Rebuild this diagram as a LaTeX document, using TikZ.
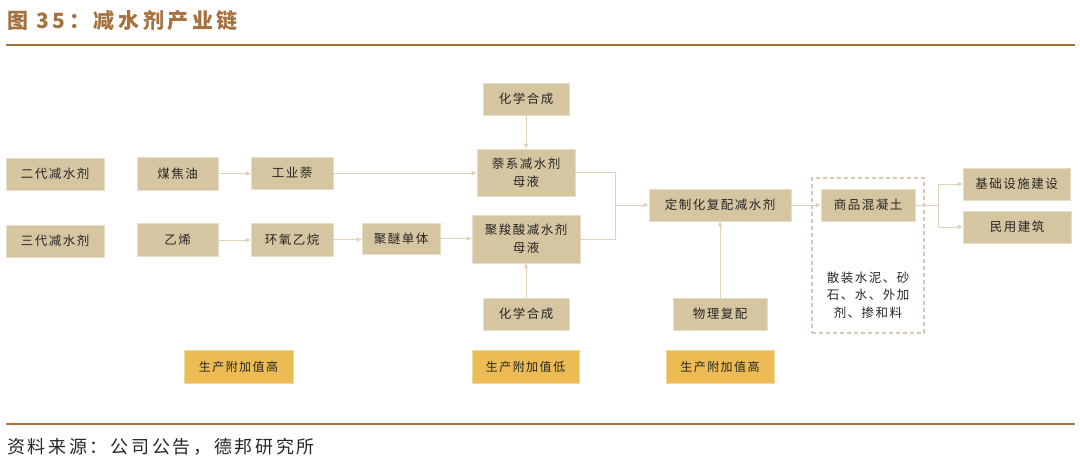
\documentclass[tikz,border=0pt]{standalone}
\usepackage{fontspec}
\usetikzlibrary{arrows.meta}
\newfontfamily\cjk[LetterSpace=12]{Noto Sans CJK SC}
\newfontfamily\cjkt[LetterSpace=17]{Noto Sans CJK SC}
\newfontfamily\cjkf[LetterSpace=15]{Noto Sans CJK SC}
\definecolor{boxtan}{HTML}{D5C5A1}
\definecolor{boxedge}{HTML}{E8DDC8}
\definecolor{ylw}{HTML}{EDBB53}
\definecolor{ylwedge}{HTML}{F3D79A}
\definecolor{conn}{HTML}{E0D3BA}
\definecolor{brown}{HTML}{A5723F}
\definecolor{dashc}{HTML}{D8CAAE}
\tikzset{
  tanbox/.style={fill=boxtan, draw=boxedge, line width=0.8pt, inner sep=0pt, align=center,
    font=\cjk\fontsize{12.5}{18}\selectfont, text=black!85},
  ylwbox/.style={fill=ylw, draw=ylwedge, line width=0.8pt, inner sep=0pt, align=center,
    font=\cjk\fontsize{12}{16}\selectfont, text=black!85,
    minimum height=33pt},
  conn/.style={draw=conn, line width=1pt, -{Triangle[length=5pt,width=4.5pt]}},
  connl/.style={draw=conn, line width=1pt},
}
\begin{document}
\begin{tikzpicture}[x=1pt,y=-1pt]
\useasboundingbox (0,0) rectangle (1080,469);
% header
\node[anchor=west, inner sep=0pt, text=brown, font=\cjkt\bfseries\fontsize{21}{24}\selectfont] (title) at (7,21) {图 35：减水剂产业链};
\draw[brown, line width=2.6pt] (6,45) -- (1075,45);
\draw[brown, line width=2.6pt] (6,424) -- (1075,424);
\node[anchor=west, inner sep=0pt, text=black!85, font=\cjkf\fontsize{18}{20}\selectfont] (src) at (7,447) {资料来源：公司公告，德邦研究所};

% column 1
\node[tanbox, minimum width=98pt, minimum height=32pt] (g2) at (55,174) {二代减水剂};
\node[tanbox, minimum width=98pt, minimum height=32pt] (g3) at (55,241) {三代减水剂};
% column 2
\node[tanbox, minimum width=81pt, minimum height=33pt] (mjy) at (177.5,173.5) {煤焦油};
\node[tanbox, minimum width=81pt, minimum height=33pt] (yx) at (177.5,240) {乙烯};
% column 3
\node[tanbox, minimum width=82pt, minimum height=32pt] (gyn) at (292,173) {工业萘};
\node[tanbox, minimum width=82pt, minimum height=33pt] (hy) at (292,239.5) {环氧乙烷};
% column 4
\node[tanbox, minimum width=78pt, minimum height=31pt] (jm) at (401,238.5) {聚醚单体};
% column 5
\node[tanbox, minimum width=86pt, minimum height=32pt] (hx1) at (526,99) {化学合成};
\node[tanbox, minimum width=98pt, minimum height=47pt] (nx) at (526,172.5) {萘系减水剂\\母液};
\node[tanbox, minimum width=108pt, minimum height=48pt] (js) at (526,239) {聚羧酸减水剂\\母液};
\node[tanbox, minimum width=86pt, minimum height=32pt] (hx2) at (526,314) {化学合成};
% column 6
\node[tanbox, minimum width=142pt, minimum height=32pt] (dz) at (720,205) {定制化复配减水剂};
\node[tanbox, minimum width=94pt, minimum height=32pt] (wl) at (720,314) {物理复配};
% column 7
\node[draw=dashc, line width=1.4pt, dash pattern=on 4pt off 3pt, minimum width=112pt, minimum height=155pt, inner sep=0pt] (dash) at (868,255.5) {};
\node[tanbox, minimum width=94pt, minimum height=32pt] (sp) at (868,205) {商品混凝土};
\node[inner sep=0pt, align=center, font=\cjk\fontsize{12.5}{17.5}\selectfont, text=black!85] (mix) at (868,295) {散装水泥、砂\\石、水、外加\\剂、掺和料};
% column 8
\node[tanbox, minimum width=107pt, minimum height=32pt] (jc) at (1016.5,184) {基础设施建设};
\node[tanbox, minimum width=108pt, minimum height=32pt] (my) at (1017,227) {民用建筑};
% yellow
\node[ylwbox, minimum width=109pt] (y1) at (238.5,366.5) {生产附加值高};
\node[ylwbox, minimum width=107pt] (y2) at (525.5,366.5) {生产附加值低};
\node[ylwbox, minimum width=108pt] (y3) at (720,366.5) {生产附加值高};

% junction coordinates
\coordinate (j1) at (615,205);
\coordinate (j2) at (938,205);

% connectors
\draw[conn] (mjy.east) -- (mjy.east -| gyn.west);
\draw[conn] (gyn.east) -- (gyn.east -| nx.west);
\draw[conn] (yx.east) -- (yx.east -| hy.west);
\draw[conn] (hy.east) -- (hy.east -| jm.west);
\draw[conn] (jm.east) -- (jm.east -| js.west);
\draw[conn] (hx1.south) -- (nx.north);
\draw[conn] (hx2.north) -- (js.south);
\draw[connl] (nx.east) -| (j1);
\draw[connl] (js.east) -| (j1);
\draw[conn] (j1) -- (dz.west);
\draw[conn] (wl.north) -- (dz.south);
\draw[conn] (dz.east) -- (sp.west);
\draw[connl] (sp.east) -- (j2);
\draw[conn] (j2) |- (jc.west);
\draw[conn] (j2) |- (my.west);
\end{tikzpicture}
\end{document}
